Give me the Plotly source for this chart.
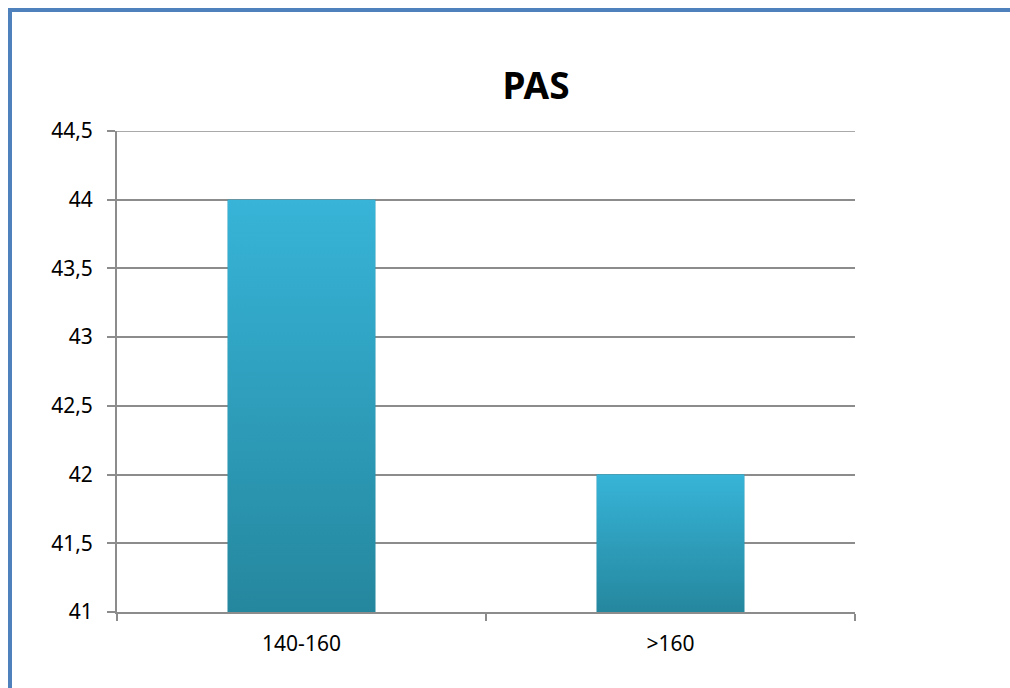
import plotly.graph_objects as go

# Data
categories = ["140-160", ">160"]
values = [44, 42]
y_ticks = [41, 41.5, 42, 42.5, 43, 43.5, 44, 44.5]
y_tick_labels = ["41", "41,5", "42", "42,5", "43", "43,5", "44", "44,5"]

W, H = 1010, 688
M_L, M_R, M_T, M_B = 117, 155, 131, 76
Y_MIN, Y_MAX = 41, 44.5
BAR_W = 0.4

TOP_COLOR = "#37b4d8"
BOTTOM_COLOR = "#25879e"
GRID = "#8c8c8c"
FONT = "Noto Sans"

fig = go.Figure()

# Base bars on the category axis
fig.add_trace(go.Bar(
    x=categories, y=[v - Y_MIN for v in values], base=Y_MIN,
    width=BAR_W, marker=dict(color=BOTTOM_COLOR, line=dict(width=0)),
    hoverinfo="skip", showlegend=False,
))

# Gradient faces of the bars, drawn on a matching linear overlay axis
for i, v in enumerate(values):
    x0, x1 = i - BAR_W / 2, i + BAR_W / 2
    fig.add_trace(go.Scatter(
        x=[x0, x1, x1, x0, x0], y=[Y_MIN, Y_MIN, v, v, Y_MIN],
        xaxis="x2", mode="lines", fill="toself", line=dict(width=0),
        fillgradient=dict(type="vertical",
                          colorscale=[[0, BOTTOM_COLOR], [1, TOP_COLOR]]),
        hovertemplate=f"{categories[i]}: {v}<extra></extra>",
        showlegend=False,
    ))

plot_w = W - M_L - M_R
plot_h = H - M_T - M_B


def px_x(p):
    return (p - M_L) / plot_w


def px_y(p):
    return (H - M_B - p) / plot_h


# Top gridline at the end of the value range
fig.add_shape(type="line", xref="paper", yref="y", layer="below",
              x0=0, x1=1, y0=Y_MAX, y1=Y_MAX,
              line=dict(color=GRID, width=1.5))

border = dict(color="#4f81bd", width=4)
fig.add_shape(type="line", xref="paper", yref="paper",
              x0=px_x(10), x1=px_x(10), y0=px_y(8), y1=px_y(H + 5), line=border)
fig.add_shape(type="line", xref="paper", yref="paper",
              x0=px_x(8), x1=px_x(W + 5), y0=px_y(10), y1=px_y(10), line=border)

fig.update_layout(
    width=W, height=H,
    margin=dict(l=M_L, r=M_R, t=M_T, b=M_B),
    paper_bgcolor="white", plot_bgcolor="white",
    font=dict(family=FONT, size=21, color="black"),
    title=dict(text="<b>PAS</b>", x=px_x(536), xanchor="center", xref="paper",
               y=1 - 86 / H, yanchor="middle",
               font=dict(family=FONT, size=37, color="black")),
    bargap=0.6,
    xaxis=dict(
        type="category", categoryorder="array", categoryarray=categories,
        range=[-0.5, 1.5], tickson="boundaries",
        ticks="outside", ticklen=7, tickwidth=1.5, tickcolor=GRID,
        showline=True, linecolor=GRID, linewidth=2,
        showgrid=False, zeroline=False, fixedrange=True,
        ticklabelstandoff=12,
        tickfont=dict(family=FONT, size=21),
    ),
    xaxis2=dict(overlaying="x", range=[-0.5, 1.5], visible=False,
                fixedrange=True),
    yaxis=dict(
        range=[Y_MIN, Y_MAX], tickvals=y_ticks, ticktext=y_tick_labels,
        ticks="outside", ticklen=8, tickwidth=1.5, tickcolor=GRID,
        showline=True, linecolor=GRID, linewidth=2,
        showgrid=True, gridcolor=GRID, gridwidth=1.5,
        zeroline=False, fixedrange=True,
        ticklabelstandoff=10,
        tickfont=dict(family=FONT, size=21),
    ),
)

fig.write_html("out.html")
